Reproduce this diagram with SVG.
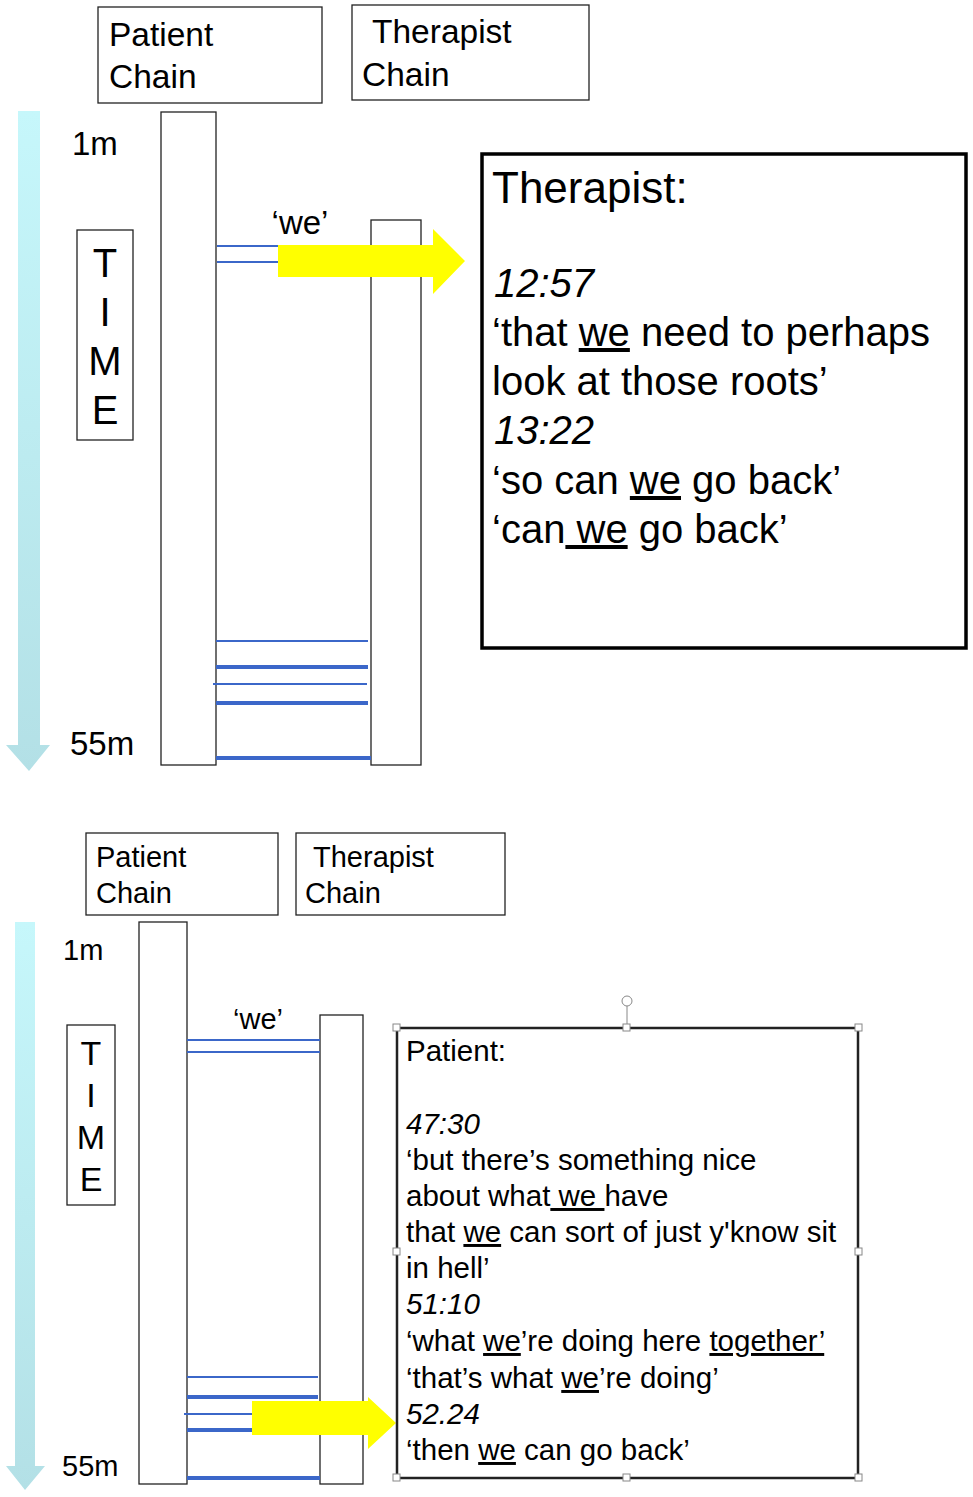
<svg xmlns="http://www.w3.org/2000/svg" width="973" height="1497" viewBox="0 0 973 1497">
<style>
text{font-family:"Liberation Sans",Arial,sans-serif;fill:#000}
.box{fill:#fff;stroke:#222;stroke-width:1.3}
.thin{stroke:#3b67c9;stroke-width:2}
.thick{stroke:#3b67c9;stroke-width:4}
.u{text-decoration:underline}
.h{fill:#fff;stroke:#888;stroke-width:1}
</style>
<defs>
<linearGradient id="tg" x1="0" y1="0" x2="0" y2="1"><stop offset="0" stop-color="#c6f7fb"/><stop offset="1" stop-color="#b3e0e6"/></linearGradient>
</defs>
<rect width="973" height="1497" fill="#fff"/>
<g id="top">
<g id="time1"><polygon points="18,111 40,111 40,745 50,745 29,771 6,745 18,745" fill="url(#tg)"/></g>
<g id="pc1"><rect class="box" x="98" y="7" width="224" height="96"/><text x="109" y="46" font-size="33.5">Patient</text><text x="109" y="88" font-size="33.5">Chain</text></g>
<g id="tc1"><rect class="box" x="352" y="5" width="237" height="95"/><text x="372" y="43" font-size="33.5">Therapist</text><text x="362" y="86" font-size="33.5">Chain</text></g>
<text x="72" y="155" font-size="33">1m</text>
<text x="70" y="755" font-size="33">55m</text>
<g id="timebox1"><rect class="box" x="77" y="230" width="56" height="210"/>
<text x="105" y="277" font-size="40" text-anchor="middle">T</text><text x="105" y="326" font-size="40" text-anchor="middle">I</text><text x="105" y="375" font-size="40" text-anchor="middle">M</text><text x="105" y="424" font-size="40" text-anchor="middle">E</text></g>
<g id="pcol1"><rect class="box" x="161" y="112" width="55" height="653"/></g>
<g id="tcol1"><rect class="box" x="371" y="220" width="50" height="545"/></g>
<g id="conn1">
<line class="thin" x1="217" y1="246" x2="280" y2="246"/><line class="thin" x1="217" y1="262" x2="280" y2="262"/>
<line class="thin" x1="216" y1="641" x2="368" y2="641"/><line class="thick" x1="216" y1="667" x2="368" y2="667"/>
<line class="thin" x1="213" y1="684" x2="367" y2="684"/><line class="thick" x1="216" y1="703" x2="368" y2="703"/>
<line class="thick" x1="216" y1="758" x2="371" y2="758"/>
<polygon points="278,245 433,245 433,229 465,261 433,294 433,277 278,277" fill="#ffff00"/>
</g>
<text x="300" y="234" font-size="33" text-anchor="middle">‘we’</text>
<g id="tbox"><rect x="482" y="154" width="484" height="494" fill="#fff" stroke="#000" stroke-width="3.5"/>
<text x="492" y="203" font-size="44">Therapist:</text>
<text font-size="40"><tspan x="494" y="297" font-style="italic">12:57</tspan>
<tspan x="492" y="346">‘that <tspan class="u">we</tspan> need to perhaps</tspan>
<tspan x="492" y="395">look at those roots’</tspan>
<tspan x="494" y="444" font-style="italic">13:22</tspan>
<tspan x="492" y="494">‘so can <tspan class="u">we</tspan> go back’</tspan>
<tspan x="492" y="543">‘can<tspan class="u"> we</tspan> go back’</tspan></text></g>
</g>
<g id="bottom">
<g id="time2"><polygon points="15,922 35,922 35,1466 45,1466 25,1490 6,1466 15,1466" fill="url(#tg)"/></g>
<g id="pc2"><rect class="box" x="86" y="833" width="192" height="82"/><text x="96" y="867" font-size="29">Patient</text><text x="96" y="903" font-size="29">Chain</text></g>
<g id="tc2"><rect class="box" x="296" y="833" width="209" height="82"/><text x="313" y="867" font-size="29">Therapist</text><text x="305" y="903" font-size="29">Chain</text></g>
<text x="63" y="960" font-size="29">1m</text>
<text x="62" y="1476" font-size="29">55m</text>
<g id="timebox2"><rect class="box" x="67" y="1025" width="48" height="180"/>
<text x="91" y="1065" font-size="34" text-anchor="middle">T</text><text x="91" y="1107" font-size="34" text-anchor="middle">I</text><text x="91" y="1149" font-size="34" text-anchor="middle">M</text><text x="91" y="1191" font-size="34" text-anchor="middle">E</text></g>
<g id="pcol2"><rect class="box" x="139" y="922" width="48" height="562"/></g>
<g id="tcol2"><rect class="box" x="320" y="1015" width="43" height="469"/></g>
<g id="conn2">
<line class="thin" x1="187" y1="1040" x2="320" y2="1040"/><line class="thin" x1="187" y1="1052" x2="320" y2="1052"/>
<line class="thin" x1="187" y1="1377" x2="318" y2="1377"/><line class="thick" x1="187" y1="1397" x2="318" y2="1397"/>
<line class="thin" x1="184" y1="1414" x2="254" y2="1414"/><line class="thick" x1="187" y1="1430" x2="254" y2="1430"/>
<line class="thick" x1="187" y1="1478" x2="320" y2="1478"/>
<polygon points="252,1401 368,1401 368,1397 396,1423 368,1449 368,1435 252,1435" fill="#ffff00"/>
</g>
<text x="258" y="1029" font-size="29" text-anchor="middle">‘we’</text>
<g id="pbox">
<line x1="627" y1="1006" x2="627" y2="1027" stroke="#888"/><circle cx="627" cy="1001" r="5" fill="#fff" stroke="#888"/>
<rect x="397" y="1028" width="461" height="450" fill="#fff" stroke="#222" stroke-width="2.5"/>
<rect class="h" x="393" y="1024" width="7" height="7"/><rect class="h" x="623" y="1024" width="7" height="7"/><rect class="h" x="855" y="1024" width="7" height="7"/>
<rect class="h" x="393" y="1248" width="7" height="7"/><rect class="h" x="855" y="1248" width="7" height="7"/>
<rect class="h" x="393" y="1474" width="7" height="7"/><rect class="h" x="623" y="1474" width="7" height="7"/><rect class="h" x="855" y="1474" width="7" height="7"/>
<text font-size="29.5"><tspan x="406" y="1061">Patient:</tspan>
<tspan x="406" y="1134" font-style="italic">47:30</tspan>
<tspan x="406" y="1170">‘but there’s something nice</tspan>
<tspan x="406" y="1206">about what<tspan class="u"> we </tspan>have</tspan>
<tspan x="406" y="1242">that <tspan class="u">we</tspan> can sort of just y'know sit</tspan>
<tspan x="406" y="1278">in hell’</tspan>
<tspan x="406" y="1314" font-style="italic">51:10</tspan>
<tspan x="406" y="1351">‘what <tspan class="u">we</tspan>’re doing here <tspan class="u">together’</tspan></tspan>
<tspan x="406" y="1388">‘that’s what <tspan class="u">we</tspan>’re doing’</tspan>
<tspan x="406" y="1424" font-style="italic">52.24</tspan>
<tspan x="406" y="1460">‘then <tspan class="u">we</tspan> can go back’</tspan></text>
</g>
</g>
</svg>
